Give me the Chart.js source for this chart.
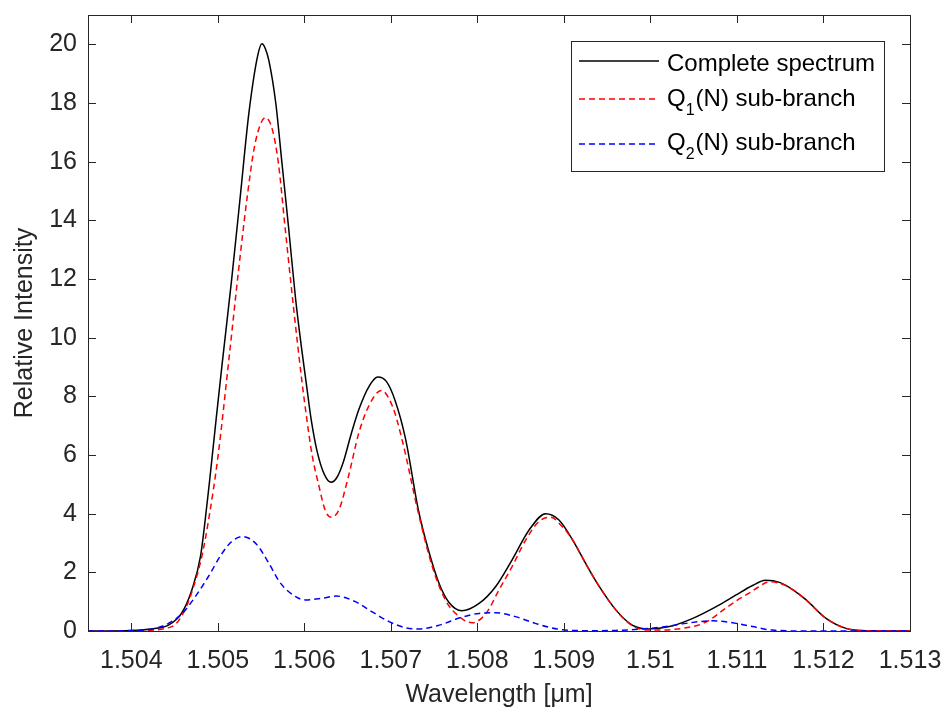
<!DOCTYPE html>
<html>
<head>
<meta charset="utf-8">
<script src="https://cdn.jsdelivr.net/npm/chart.js@4.4.0/dist/chart.umd.min.js"></script>
<style>
  html, body { margin: 0; padding: 0; background: #fff; }
</style>
</head>
<body>
<canvas id="spectrumChart" width="946" height="713"></canvas>
<script>
// wavelength [um] / relative intensity
var completeX = [1.5035, 1.5040, 1.50425, 1.50443, 1.50458, 1.50470, 1.50480, 1.50488, 1.50491, 1.50498,
    1.50505, 1.50516, 1.50526, 1.50536, 1.50546, 1.50551, 1.50555, 1.50559, 1.50567, 1.50574,
    1.50582, 1.50590, 1.50597, 1.50602, 1.50608, 1.50615, 1.50623, 1.50631, 1.50638, 1.50645,
    1.50654, 1.50663, 1.50675, 1.50685, 1.50695, 1.50705, 1.50717, 1.50732, 1.50744, 1.50756,
    1.50767, 1.50782, 1.50802, 1.50821, 1.50840, 1.50860, 1.50879, 1.50894, 1.50910, 1.50925,
    1.50941, 1.50960, 1.50979, 1.50998, 1.51022, 1.51049, 1.51076, 1.51099, 1.51118, 1.51133,
    1.51150, 1.51166, 1.51180, 1.51203, 1.51226, 1.51249, 1.5130];
var completeY = [0, 0.02, 0.08, 0.20, 0.60, 1.40, 2.54, 4.45, 5.25, 7.2,
    9.1, 11.98, 14.82, 17.67, 19.6, 20.02, 19.85, 19.45, 18.0, 16.0,
    13.7, 11.3, 9.6, 8.5, 7.2, 6.1, 5.35, 5.07, 5.25, 5.75,
    6.7, 7.55, 8.35, 8.66, 8.50, 7.85, 6.55, 4.10, 2.70, 1.60,
    0.98, 0.69, 0.94, 1.51, 2.42, 3.45, 4.00, 3.79, 3.11, 2.31,
    1.51, 0.72, 0.20, 0.07, 0.15, 0.43, 0.83, 1.23, 1.55, 1.73,
    1.65, 1.38, 1.06, 0.43, 0.09, 0.01, 0];

var q1X = [1.5035, 1.5041, 1.50447, 1.50462, 1.50472, 1.50482, 1.50490, 1.50500, 1.50513, 1.50524,
    1.50534, 1.50542, 1.50549, 1.50555, 1.50563, 1.50570, 1.50578, 1.50588, 1.50597, 1.50603,
    1.50609, 1.50617, 1.50624, 1.50631, 1.50640, 1.50651, 1.50663, 1.50675, 1.50689, 1.50702,
    1.50713, 1.50732, 1.50748, 1.50763, 1.50779, 1.50794, 1.50810, 1.50825, 1.50840, 1.50856,
    1.50871, 1.50885, 1.50898, 1.50910, 1.50925, 1.50941, 1.50960, 1.50979, 1.50998, 1.51037,
    1.51064, 1.51088, 1.51103, 1.51114, 1.51125, 1.51137, 1.51150, 1.51166, 1.51180, 1.51203,
    1.51226, 1.51249, 1.5130];
var q1Y = [0, 0.02, 0.15, 0.72, 1.51, 2.6, 3.9, 5.9, 9.3, 12.3,
    14.8, 16.45, 17.25, 17.5, 17.10, 15.96, 13.69, 10.9, 8.57, 7.2,
    6.0, 4.93, 4.13, 3.88, 4.13, 5.27, 6.75, 7.7, 8.20, 7.65,
    6.52, 4.0, 2.19, 1.06, 0.49, 0.28, 0.60, 1.40, 2.19, 3.11,
    3.73, 3.88, 3.56, 3.11, 2.31, 1.51, 0.72, 0.18, 0.03, 0.09,
    0.30, 0.80, 1.10, 1.29, 1.50, 1.68, 1.62, 1.38, 1.06, 0.43,
    0.09, 0.01, 0];

var q2X = [1.5035, 1.50398, 1.50428, 1.50443, 1.50459, 1.50474, 1.50489, 1.50505, 1.50516, 1.50529,
    1.50545, 1.50559, 1.50572, 1.50590, 1.50601, 1.50621, 1.50637, 1.50659, 1.50678, 1.50698,
    1.50717, 1.50732, 1.50756, 1.50782, 1.50802, 1.50821, 1.50844, 1.50867, 1.50894, 1.50930,
    1.50960, 1.50999, 1.51018, 1.51041, 1.51072, 1.51099, 1.51118, 1.51141, 1.5118, 1.5130];
var q2Y = [0, 0.01, 0.09, 0.26, 0.60, 1.17, 1.85, 2.65, 3.05, 3.22,
    2.95, 2.31, 1.65, 1.17, 1.06, 1.12, 1.19, 1.00, 0.66, 0.32,
    0.11, 0.07, 0.20, 0.47, 0.60, 0.62, 0.49, 0.26, 0.06, 0.01,
    0.02, 0.09, 0.15, 0.26, 0.35, 0.26, 0.15, 0.03, 0, 0];

var xTicks = [1.504, 1.505, 1.506, 1.507, 1.508, 1.509, 1.51, 1.511, 1.512, 1.513];
var xTickLabels = ['1.504', '1.505', '1.506', '1.507', '1.508', '1.509', '1.51', '1.511', '1.512', '1.513'];
var yTicks = [0, 2, 4, 6, 8, 10, 12, 14, 16, 18, 20];

var FONT = '"Liberation Sans", Arial, Helvetica, sans-serif';
var AXIS_COLOR = '#262626';

function toPoints(xs, ys) {
    return xs.map(function (x, i) { return { x: x, y: ys[i] }; });
}

// box round the plot with ticks pointing inwards on all four sides
var boxPlugin = {
    id: 'boxPlugin',
    afterDatasetsDraw: function (chart) {
        var ctx = chart.ctx, a = chart.chartArea;
        var xs = chart.scales.x, ys = chart.scales.y;
        var tl = 8;
        ctx.save();
        ctx.strokeStyle = AXIS_COLOR;
        ctx.lineWidth = 1;
        ctx.strokeRect(Math.round(a.left) + 0.5, Math.round(a.top) + 0.5,
            Math.round(a.right - a.left), Math.round(a.bottom - a.top));
        ctx.beginPath();
        xTicks.forEach(function (v) {
            var px = Math.round(xs.getPixelForValue(v)) + 0.5;
            ctx.moveTo(px, a.bottom); ctx.lineTo(px, a.bottom - tl);
            ctx.moveTo(px, a.top); ctx.lineTo(px, a.top + tl);
        });
        yTicks.forEach(function (v) {
            var py = Math.round(ys.getPixelForValue(v)) + 0.5;
            ctx.moveTo(a.left, py); ctx.lineTo(a.left + tl, py);
            ctx.moveTo(a.right, py); ctx.lineTo(a.right - tl, py);
        });
        ctx.stroke();
        ctx.restore();
    }
};

// legend with subscripts, drawn like the MATLAB one
var legendPlugin = {
    id: 'legendPlugin',
    afterDraw: function (chart) {
        var ctx = chart.ctx, a = chart.chartArea;
        var bx = a.right - 339, by = a.top + 26, bw = 313, bh = 130;
        var rows = [
            { color: '#000000', dash: [], main: 'Complete spectrum', lineY: 46, textY: 55.5 },
            { color: '#ff0000', dash: [6, 4], main: 'Q', sub: '1', rest: '(N) sub-branch', lineY: 84, textY: 91 },
            { color: '#0000ff', dash: [6, 4], main: 'Q', sub: '2', rest: '(N) sub-branch', lineY: 129, textY: 135 }
        ];
        ctx.save();
        ctx.fillStyle = '#ffffff';
        ctx.fillRect(bx, by, bw, bh);
        ctx.strokeStyle = AXIS_COLOR;
        ctx.lineWidth = 1;
        ctx.strokeRect(Math.round(bx) + 0.5, Math.round(by) + 0.5, bw, bh);
        rows.forEach(function (r) {
            var ly = a.top + r.lineY, ty = a.top + r.textY;
            ctx.strokeStyle = r.color;
            ctx.lineWidth = 1.3;
            ctx.setLineDash(r.dash);
            ctx.beginPath();
            ctx.moveTo(bx + 8, ly);
            ctx.lineTo(bx + 88, ly);
            ctx.stroke();
            ctx.setLineDash([]);
            ctx.fillStyle = '#000000';
            ctx.textBaseline = 'alphabetic';
            ctx.textAlign = 'left';
            var tx = bx + 96;
            ctx.font = '24px ' + FONT;
            ctx.fillText(r.main, tx, ty);
            if (r.sub) {
                tx += ctx.measureText(r.main).width;
                ctx.font = '16px ' + FONT;
                ctx.fillText(r.sub, tx, ty + 9);
                tx += ctx.measureText(r.sub).width + 1;
                ctx.font = '24px ' + FONT;
                ctx.fillText(r.rest, tx, ty);
            }
        });
        ctx.restore();
    }
};

var ctx = document.getElementById('spectrumChart').getContext('2d');
new Chart(ctx, {
    type: 'line',
    data: {
        datasets: [{
            label: 'Complete spectrum',
            data: toPoints(completeX, completeY),
            borderColor: '#000000',
            borderWidth: 1.5,
            order: 3
        }, {
            label: 'Q1(N) sub-branch',
            data: toPoints(q1X, q1Y),
            borderColor: '#ff0000',
            borderWidth: 1.5,
            borderDash: [6, 4],
            order: 2
        }, {
            label: 'Q2(N) sub-branch',
            data: toPoints(q2X, q2Y),
            borderColor: '#0000ff',
            borderWidth: 1.5,
            borderDash: [6, 4],
            order: 1
        }]
    },
    options: {
        responsive: false,
        animation: false,
        devicePixelRatio: 1,
        layout: { padding: { top: 15, right: 36, left: 0, bottom: 0 } },
        elements: {
            point: { radius: 0, hoverRadius: 0 },
            line: { cubicInterpolationMode: 'monotone', fill: false }
        },
        plugins: {
            legend: { display: false },
            tooltip: { enabled: false }
        },
        scales: {
            x: {
                type: 'linear',
                min: 1.5035,
                max: 1.513,
                afterBuildTicks: function (scale) {
                    scale.ticks = xTicks.map(function (v) { return { value: v }; });
                },
                afterFit: function (scale) {
                    scale.height = 82;
                    scale.paddingLeft = 0;
                    scale.paddingRight = 0;
                },
                grid: { display: false, drawTicks: false },
                border: { display: false },
                ticks: {
                    padding: 15,
                    maxRotation: 0,
                    color: AXIS_COLOR,
                    font: { family: FONT, size: 25 },
                    callback: function (value) {
                        var i = xTicks.indexOf(value);
                        return i >= 0 ? xTickLabels[i] : '';
                    }
                },
                title: {
                    display: true,
                    text: 'Wavelength [\u03bcm]',
                    color: AXIS_COLOR,
                    font: { family: FONT, size: 25 },
                    padding: { top: 0, bottom: 3 }
                }
            },
            y: {
                min: 0,
                max: 21,
                afterBuildTicks: function (scale) {
                    scale.ticks = yTicks.map(function (v) { return { value: v }; });
                },
                afterFit: function (scale) {
                    scale.width = 88;
                    scale.paddingTop = 0;
                    scale.paddingBottom = 0;
                },
                grid: { display: false, drawTicks: false },
                border: { display: false },
                ticks: {
                    padding: 11,
                    color: AXIS_COLOR,
                    font: { family: FONT, size: 25 }
                },
                title: {
                    display: true,
                    text: 'Relative Intensity',
                    color: AXIS_COLOR,
                    font: { family: FONT, size: 25 },
                    padding: { top: 10, bottom: 0 }
                }
            }
        }
    },
    plugins: [boxPlugin, legendPlugin]
});
</script>
</body>
</html>
